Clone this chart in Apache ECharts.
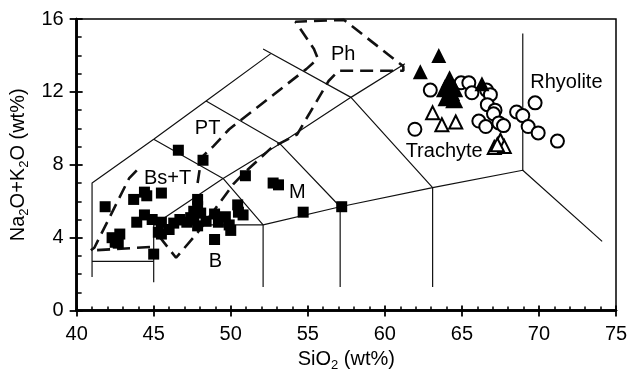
<!DOCTYPE html>
<html>
<head>
<meta charset="utf-8">
<script src="https://cdn.jsdelivr.net/npm/echarts@6/dist/echarts.min.js"></script>
<style>html,body{margin:0;padding:0;background:#fff}#c{width:639px;height:377px}</style>
</head>
<body>
<div id="c"></div>
<script>
// ---- tick labels / axis ranges ----
const xTicks = [40, 45, 50, 55, 60, 65, 70, 75];
const yTicks = [0, 4, 8, 12, 16];

// ---- TAS field boundaries (solid) ----
const tasBoundaries = [
  [[41, 1.85], [41, 7], [45, 9.4], [48.4, 11.5], [52.6, 14.1]],
  [[52.1, 14.35], [57.8, 11.7], [63.1, 6.75]],
  [[48.4, 11.5], [53.2, 9.15], [57.1, 5.7]],
  [[45, 9.4], [49.5, 7.25], [52.1, 4.7]],
  [[45, 4.7], [49.5, 7.25], [53.2, 9.15], [57.8, 11.7], [61.3, 13.55]],
  [[41, 2.7], [45, 2.7]],
  [[45, 1.55], [45, 4.7], [52.1, 4.7]],
  [[52.1, 1.3], [52.1, 4.7], [57.1, 5.7], [63.1, 6.75], [68.95, 7.7], [74.1, 3.8]],
  [[57.1, 1.3], [57.1, 5.7]],
  [[63.1, 1.3], [63.1, 6.75]],
  [[68.95, 7.7], [68.95, 15.2]]
];

// ---- dashed group outlines ----
const dashedMain = [[47.85, 7.0], [48.1, 8.4], [48.85, 9.0], [49.9, 9.95], [54.9, 13.25], [55.5, 13.7],
  [55.62, 13.9], [55.4, 14.35], [54.2, 15.85], [57.35, 15.95], [61.2, 13.4], [61.2, 13.16],
  [57.0, 13.16], [56.35, 12.6], [54.3, 9.66], [52.65, 8.94], [50.8, 7.5], [50.2, 6.97],
  [47.84, 4.27], [46.45, 2.9], [45.34, 4.09]];
const dashedBsT = [[43.9, 7.7], [43.4, 7.25], [41.15, 3.45], [40.9, 3.3], [45.0, 3.5]];

// ---- samples ----
const basaltSquares = [
  [46.6, 8.8], [48.2, 8.25], [50.95, 7.4], [52.75, 7.0], [53.1, 6.9], [54.7, 5.4], [57.2, 5.7],
  [41.85, 5.7], [43.7, 6.1], [44.4, 6.5], [44.55, 6.3], [45.5, 6.45],
  [42.3, 4.0], [42.8, 4.2], [42.5, 3.75], [42.7, 3.7], [45.0, 3.1], [43.9, 4.85], [44.4, 5.25],
  [44.9, 5.0], [45.5, 4.85], [45.3, 4.3], [45.5, 4.2], [46.0, 4.45], [46.3, 4.8], [46.7, 5.0],
  [47.15, 4.85], [47.4, 5.1], [47.6, 5.0], [47.85, 6.1], [47.85, 5.7], [48.05, 5.35], [47.6, 5.45],
  [47.85, 4.65], [48.4, 4.9], [48.95, 5.3], [49.2, 4.85], [49.65, 5.15], [49.9, 4.7], [50.0, 4.4],
  [48.95, 3.9], [50.45, 5.8], [50.5, 5.4], [50.8, 5.25]
];
const filledTriangles = [[63.5, 14.0], [62.3, 13.1], [66.3, 12.45]];
const filledTrianglesBig = [[64.2, 12.7], [63.9, 12.2], [64.5, 12.2], [64.0, 11.7], [64.5, 11.6], [64.3, 12.0]];
const openTriangles = [[63.1, 10.85], [63.7, 10.2], [64.6, 10.35], [67.1, 8.95], [67.5, 9.35], [67.75, 9.0], [67.3, 9.1]];
const openCircles = [
  [61.95, 9.95], [62.95, 12.1], [64.95, 12.5], [65.45, 12.5], [65.65, 11.95], [66.6, 12.1],
  [66.85, 11.85], [66.65, 11.3], [67.15, 11.0], [67.05, 10.8], [66.1, 10.4], [66.55, 10.1],
  [67.4, 10.3], [67.7, 10.15], [68.55, 10.9], [68.95, 10.7], [69.75, 11.4], [69.3, 10.1],
  [69.95, 9.75], [71.2, 9.3]
];

// ---- field labels ----
const fieldNames = ['Ph', 'PT', 'Bs+T', 'M', 'B', 'Rhyolite', 'Trachyte'];
const fieldLabelPos = [[57.3, 14.06], [48.5, 9.97], [45.9, 7.25], [54.32, 6.47], [49.0, 2.69], [71.78, 12.5], [63.85, 8.73]];

const FONT = '"Liberation Sans", Arial, Helvetica, sans-serif';
const chart = echarts.init(document.getElementById('c'), null, {renderer: 'canvas'});

const series = [];
tasBoundaries.forEach(seg => series.push({
  type: 'line', data: seg, symbol: 'none', silent: true, z: 2,
  lineStyle: {color: '#111', width: 1.2}
}));
[dashedMain, dashedBsT].forEach(seg => series.push({
  type: 'line', data: seg, symbol: 'none', silent: true, z: 3,
  lineStyle: {color: '#111', width: 2.6, type: [13, 7]}
}));
series.push({type: 'scatter', data: basaltSquares, symbol: 'rect', symbolSize: 11, z: 5,
  itemStyle: {color: '#000', opacity: 1}});
series.push({type: 'scatter', data: filledTrianglesBig, symbol: 'triangle', symbolSize: 18, z: 6,
  itemStyle: {color: '#000', opacity: 1}});
series.push({type: 'scatter', data: filledTriangles, symbol: 'triangle', symbolSize: 15, z: 6,
  itemStyle: {color: '#000', opacity: 1}});
series.push({type: 'scatter', data: openCircles, symbol: 'circle', symbolSize: 13, z: 5,
  itemStyle: {color: '#fff', borderColor: '#000', borderWidth: 2, opacity: 1}});
series.push({type: 'scatter', data: openTriangles, symbol: 'triangle', symbolSize: 13, z: 5,
  itemStyle: {color: '#fff', borderColor: '#000', borderWidth: 2, opacity: 1}});
series.push({type: 'scatter', symbolSize: 0, z: 8, silent: true,
  itemStyle: {color: 'rgba(0,0,0,0)', opacity: 1},
  data: fieldNames.map((n, i) => ({name: n, value: fieldLabelPos[i]})),
  label: {show: true, position: 'inside', formatter: p => p.name, color: '#000', fontSize: 20,
    fontFamily: FONT, textBorderWidth: 0, textBorderColor: 'transparent', opacity: 1}
});

const baseX = {type: 'value', min: xTicks[0], max: xTicks[xTicks.length - 1], interval: 5, splitLine: {show: false},
  axisLine: {show: true, onZero: false, lineStyle: {color: '#000', width: 2.5}}};
const baseY = {type: 'value', min: yTicks[0], max: yTicks[yTicks.length - 1], interval: 4, splitLine: {show: false},
  axisLine: {show: true, onZero: false, lineStyle: {color: '#000', width: 2.5}}};

chart.setOption({
  backgroundColor: '#fff',
  animation: false,
  grid: {left: 76, right: 23, top: 19, bottom: 61, show: true, borderColor: '#000', borderWidth: 1.5, backgroundColor: 'transparent'},
  xAxis: [
    Object.assign({}, baseX, {
      position: 'bottom',
      name: 'SiO{s|2} (wt%)', nameLocation: 'middle', nameGap: 36,
      nameTextStyle: {color: '#000', fontSize: 20, fontFamily: FONT,
        rich: {s: {fontSize: 13, fontFamily: FONT, color: '#000', padding: [12, 0, 0, 0]}}},
      axisTick: {show: true, inside: false, length: 6, lineStyle: {color: '#000', width: 1.8}},
      axisLabel: {color: '#000', fontSize: 20, fontFamily: FONT, margin: 14,
        formatter: v => xTicks.indexOf(v) >= 0 ? String(v) : ''}
    }),
    Object.assign({}, baseX, {
      position: 'bottom', axisLabel: {show: false},
      axisTick: {show: true, inside: true, length: 5, lineStyle: {color: '#000', width: 1.8}},
      minorTick: {show: true, splitNumber: 5, length: 4, lineStyle: {color: '#000', width: 1.5}}
    })
  ],
  yAxis: [
    Object.assign({}, baseY, {
      position: 'left',
      name: 'Na{s|2}O+K{s|2}O (wt%)', nameLocation: 'middle', nameGap: 41, nameRotate: 90,
      nameTextStyle: {color: '#000', fontSize: 20, fontFamily: FONT,
        rich: {s: {fontSize: 13, fontFamily: FONT, color: '#000', padding: [12, 0, 0, 0]}}},
      axisTick: {show: true, inside: false, length: 7, lineStyle: {color: '#000', width: 1.8}},
      axisLabel: {color: '#000', fontSize: 20, fontFamily: FONT, margin: 13,
        formatter: v => yTicks.indexOf(v) >= 0 ? String(v) : ''}
    }),
    Object.assign({}, baseY, {
      position: 'left', axisLabel: {show: false},
      axisTick: {show: true, inside: true, length: 6, lineStyle: {color: '#000', width: 1.8}},
      minorTick: {show: true, splitNumber: 4, length: 5, lineStyle: {color: '#000', width: 1.5}}
    })
  ],
  series: series
});
</script>
</body>
</html>
